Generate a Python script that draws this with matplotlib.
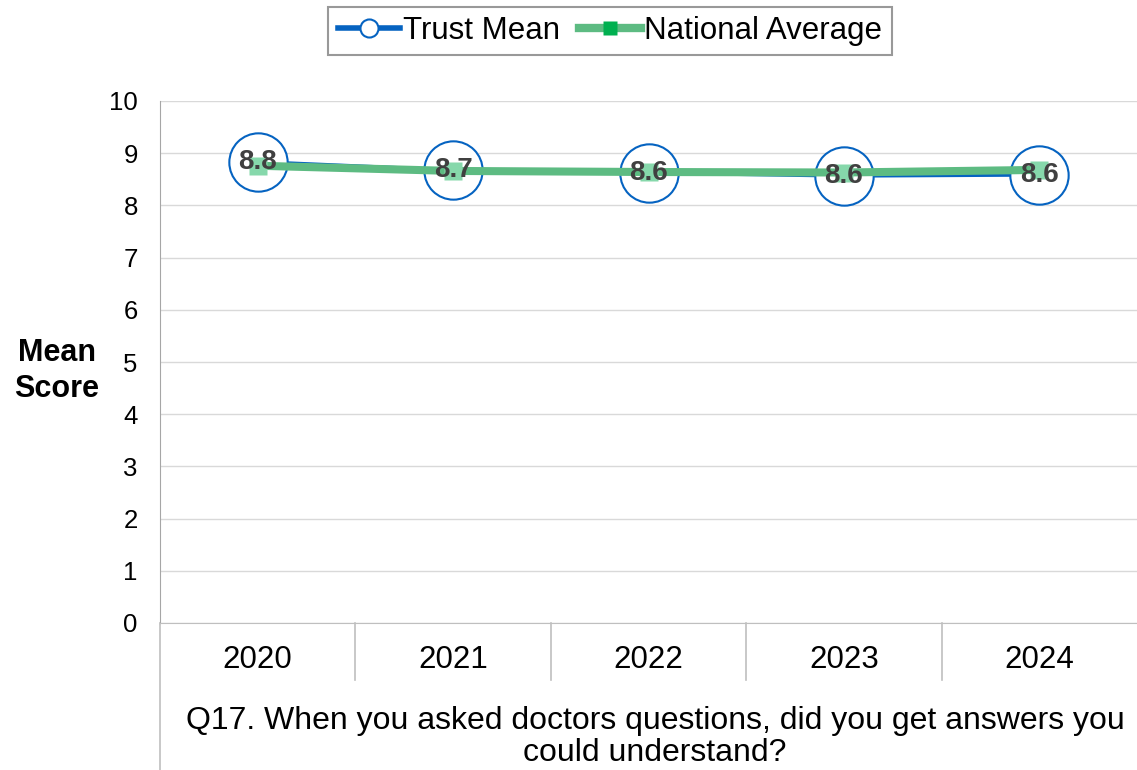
import matplotlib.pyplot as plt
from matplotlib.lines import Line2D

plt.rcParams['font.family'] = ['Liberation Sans', 'DejaVu Sans']

# data
years = ['2020', '2021', '2022', '2023', '2024']
trust_mean = [8.84, 8.68, 8.62, 8.56, 8.58]
national_avg = [8.76, 8.66, 8.64, 8.63, 8.68]
trust_labels = ['8.8', '8.7', '8.6', '8.6', '8.6']
question = 'Q17. When you asked doctors questions, did you get answers you\ncould understand?'

blue = '#0563C1'
green = '#5DBB82'
green_mk = '#86D8AB'
grid_c = '#D9D9D9'
axis_c = '#BFBFBF'

fig = plt.figure(figsize=(11.37, 7.7), dpi=100)
ax = fig.add_axes([160 / 1137, 1 - 623 / 770, 977 / 1137, 522 / 770])

x = list(range(len(years)))

# trust mean line with big open circles
ax.plot(x, trust_mean, color=blue, lw=2.2, marker='o', ms=42, mfc='white',
        mec=blue, mew=1.5, zorder=3)
# national average line on top
ax.plot(x, national_avg, color=green, lw=5.8, zorder=4)
ax.plot(x, national_avg, ls='none', marker='s', ms=13, mfc=green_mk,
        mec='none', zorder=5)

for xi, v, lab in zip(x, trust_mean, trust_labels):
    ax.text(xi, v, lab, ha='center', va='center', fontsize=20,
            fontweight='bold', color='#404040', zorder=6)

ax.set_xlim(-0.5, len(years) - 0.5)
ax.set_ylim(0, 10)
ax.set_yticks(range(0, 11))
ax.set_xticks(x)
ax.set_xticklabels(years)
ax.tick_params(axis='x', length=0, pad=16, labelsize=22.5)
ax.tick_params(axis='y', length=0, pad=16, labelsize=18.5)
ax.yaxis.grid(True, color=grid_c, lw=1)
ax.set_axisbelow(True)
for s in ['top', 'right']:
    ax.spines[s].set_visible(False)
ax.spines['bottom'].set_color(axis_c)
ax.spines['left'].set_color('#A6A6A6')

# category separators and extended left axis
for b in range(1, len(years)):
    ax.plot([b - 0.5, b - 0.5], [0, -1.09], color=axis_c, lw=1.2, clip_on=False)
ax.plot([-0.5, -0.5], [0, -2.9], color=axis_c, lw=1.2, clip_on=False)

fig.text(57 / 1137, 1 - 371 / 770, 'Mean\nScore', ha='center', va='center',
         fontsize=22, fontweight='bold', linespacing=1.3)
fig.text(655 / 1137, 1 - 737 / 770, question, ha='center', va='center',
         fontsize=23, linespacing=1.05)

handles = [
    Line2D([], [], color=blue, lw=4, marker='o', ms=13, mfc='white', mec=blue, mew=1.5),
    Line2D([], [], color=green, lw=6, marker='s', ms=10, mfc='#00B050', mec='none'),
]
leg = fig.legend(handles, ['Trust Mean', 'National Average'], loc='center',
                 bbox_to_anchor=(610 / 1137, 1 - 31 / 770), ncol=2, fontsize=22.5,
                 frameon=True, fancybox=False, handlelength=2.0, handletextpad=0.1,
                 columnspacing=0.6, borderpad=0.3, borderaxespad=0)
leg.get_frame().set_edgecolor('#808080')
leg.get_frame().set_linewidth(1.5)

fig.savefig('out.png', dpi=100)
